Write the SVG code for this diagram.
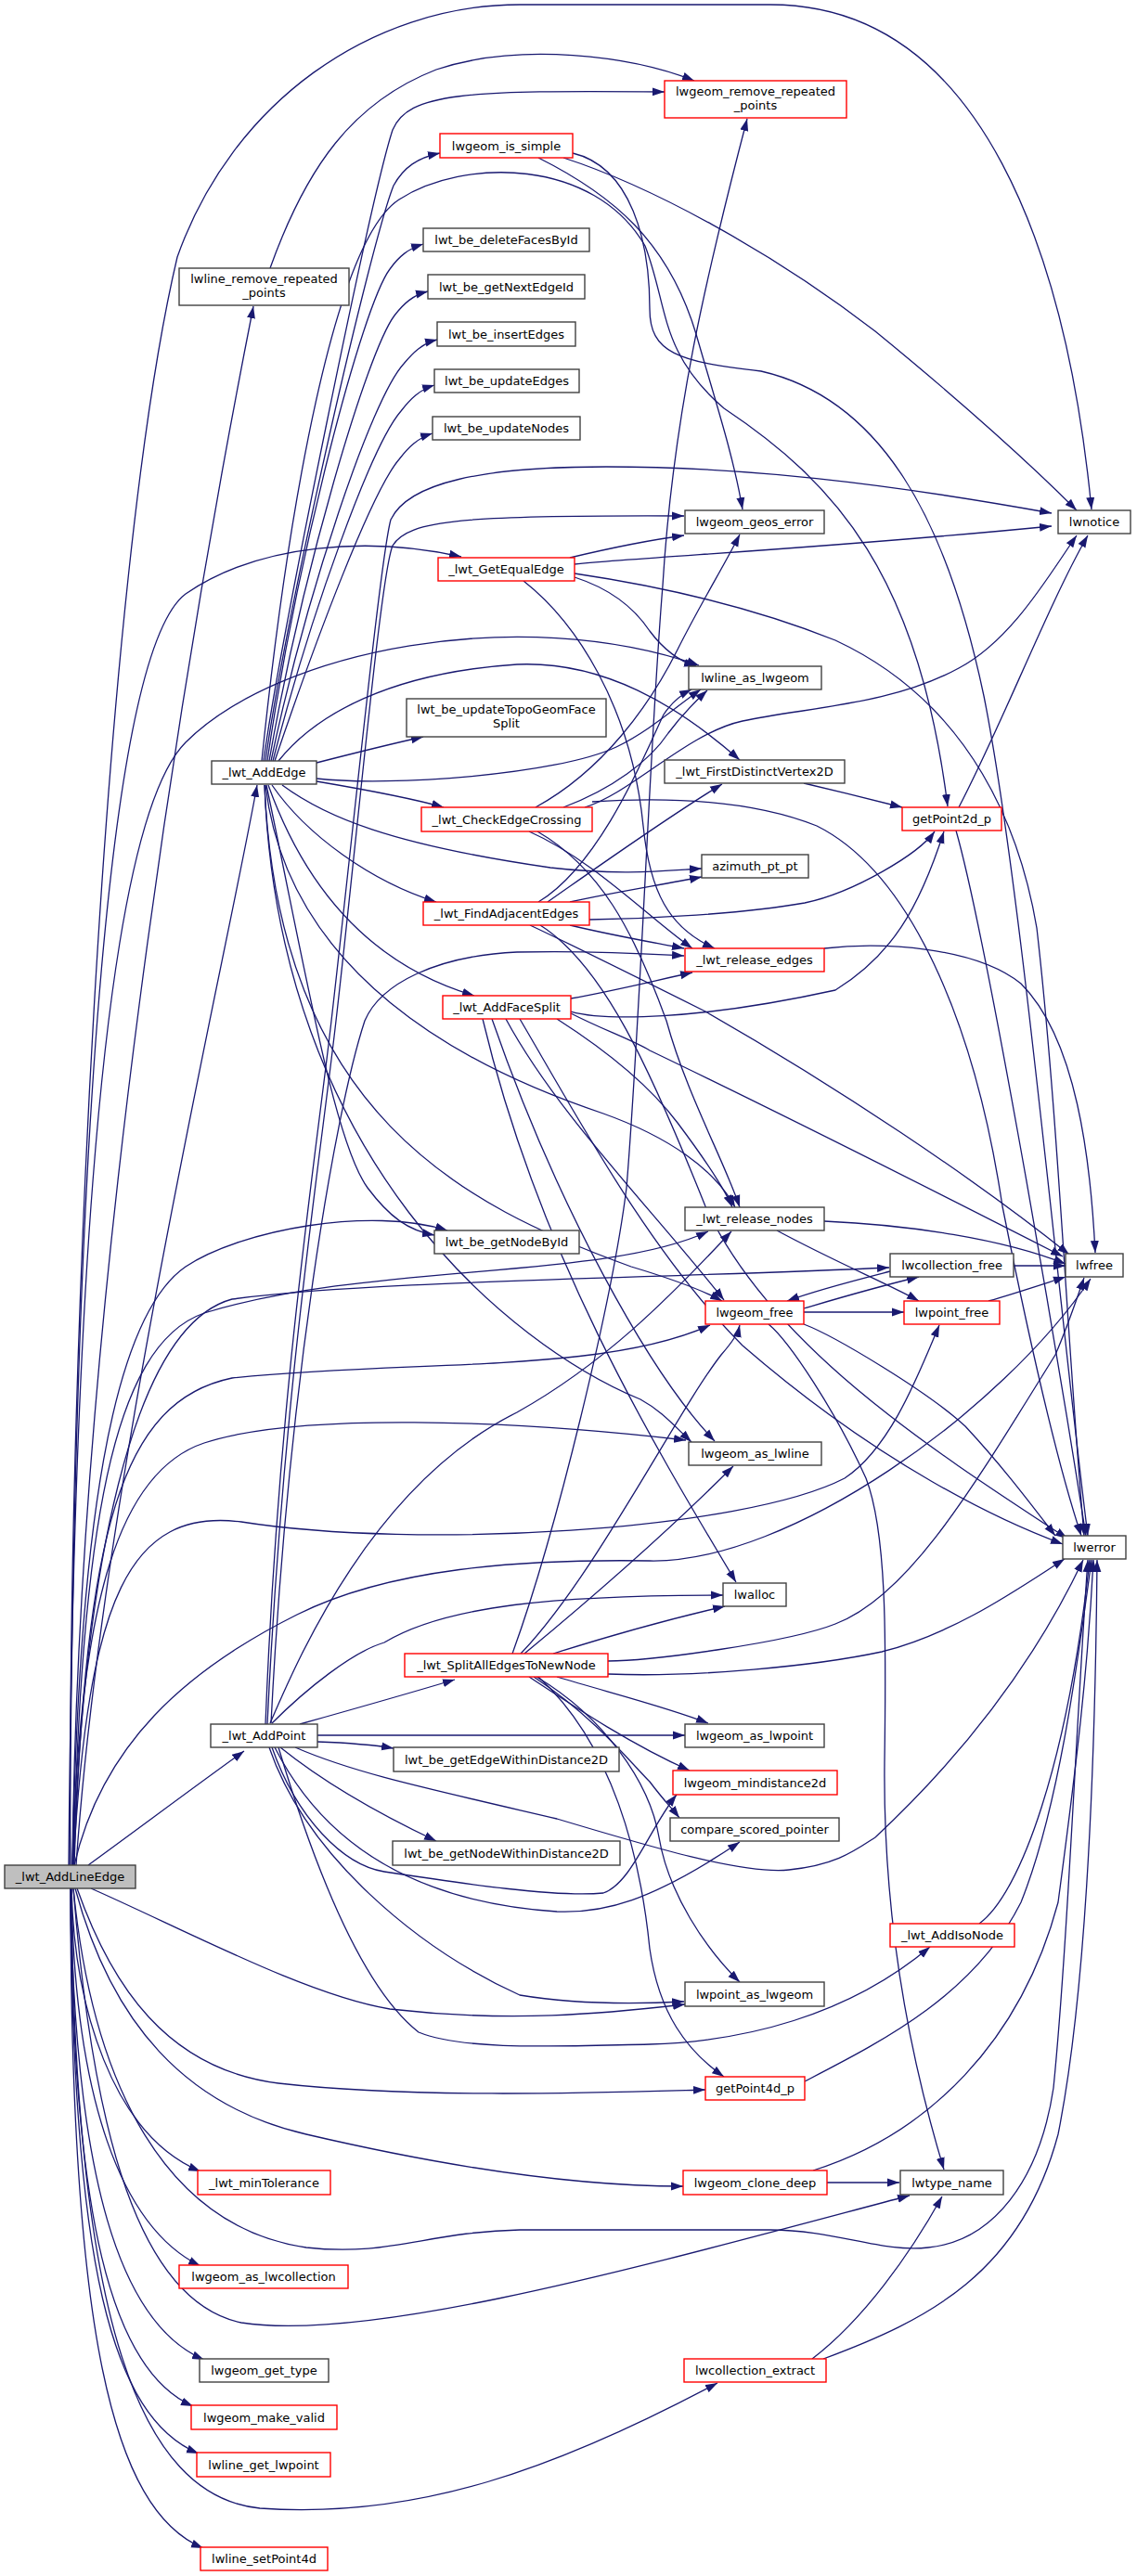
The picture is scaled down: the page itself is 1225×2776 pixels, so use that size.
<svg xmlns="http://www.w3.org/2000/svg" width="1225" height="2776" viewBox="0 0 1225 2776">
<defs>
<marker id="ah" viewBox="0 0 14 10" refX="13" refY="5" markerWidth="14" markerHeight="10" markerUnits="userSpaceOnUse" orient="auto">
<path d="M0,0.5 L13,5 L0,9.5 z" fill="#191970"/>
</marker>
<style>
.e path{fill:none;stroke:#191970;stroke-width:1.3;marker-end:url(#ah)}
.n rect{fill:#fff;stroke:#404040;stroke-width:1.4}
.r rect{fill:#fff;stroke:#ff0000;stroke-width:1.4}
.root rect{fill:#bfbfbf;stroke:#404040;stroke-width:1.4}
text{font-family:"DejaVu Sans","Liberation Sans",sans-serif;font-size:13px;text-anchor:middle;fill:#000}
</style>
</defs>
<rect width="1225" height="2776" fill="#fff"/>
<g id="edges" class="e">
<path d="M76,2010 C72,1500 110,620 191,277 C250,110 400,5 560,5 L830,5 C1060,5 1150,280 1176,549"/>
<path d="M78,2010 C84,1400 200,700 273,330"/>
<path d="M82,2010 C110,1600 240,1050 277,846"/>
<path d="M75,2010 C80,1200 120,700 200,640 C280,585 400,578 497,600"/>
<path d="M74,2010 C80,1300 120,880 200,800 C300,700 560,650 753,717"/>
<path d="M78,2010 C85,1650 120,1420 200,1365 C260,1325 400,1300 482,1326"/>
<path d="M79,2010 C88,1650 120,1450 220,1415 C400,1360 650,1380 763,1327"/>
<path d="M80,2010 C92,1650 130,1510 250,1485 C450,1465 650,1480 765,1428"/>
<path d="M79,2010 C90,1700 140,1430 250,1400 C400,1380 700,1378 958,1366"/>
<path d="M79,2010 C95,1720 140,1625 260,1640 C450,1670 800,1650 910,1593 C960,1560 990,1480 1012,1428"/>
<path d="M80,2010 C110,1880 200,1800 320,1740 C420,1690 560,1680 700,1682 C850,1685 1080,1520 1175,1378"/>
<path d="M78,2010 C86,1720 130,1585 220,1555 C320,1522 550,1530 739,1552"/>
<path d="M95,2010 C150,1970 210,1925 263,1887"/>
<path d="M79,2035 C100,2250 180,2400 330,2422 C420,2432 460,2405 560,2403 L830,2403 C900,2403 950,2428 1000,2422 C1070,2415 1120,2350 1135,2250 C1150,2100 1160,1850 1172,1681"/>
<path d="M98,2035 C200,2080 330,2150 420,2165 C550,2180 650,2170 738,2160"/>
<path d="M83,2035 C120,2140 180,2230 300,2245 C450,2262 650,2255 760,2252"/>
<path d="M81,2035 C120,2180 200,2270 330,2300 C480,2335 620,2356 736,2356"/>
<path d="M79,2035 C100,2300 150,2480 260,2503 C400,2525 700,2440 980,2366"/>
<path d="M77,2035 C80,2160 120,2300 216,2340"/>
<path d="M77,2035 C80,2260 130,2400 216,2442"/>
<path d="M76,2035 C80,2350 130,2505 220,2543"/>
<path d="M76,2035 C78,2390 120,2555 208,2593"/>
<path d="M76,2035 C78,2440 120,2605 214,2644"/>
<path d="M77,2035 C80,2500 150,2690 280,2703 C450,2715 600,2660 773,2568"/>
<path d="M76,2035 C76,2510 120,2705 219,2746"/>
<path d="M291,289 C330,180 380,110 470,75 C560,45 680,60 748,87"/>
<path d="M284,820 C300,700 400,210 423,140 C440,100 500,97 716,99"/>
<path d="M286,820 C310,650 400,260 424,200 C435,180 450,170 474,165"/>
<path d="M288,820 C320,600 390,330 420,290 C430,276 440,268 456,263"/>
<path d="M290,820 C325,620 395,380 425,340 C435,327 445,318 461,314"/>
<path d="M292,820 C330,640 400,430 435,392 C445,380 455,370 471,366"/>
<path d="M294,820 C335,660 400,480 432,443 C442,430 452,420 468,415"/>
<path d="M296,820 C340,690 400,530 430,495 C440,482 450,472 466,467"/>
<path d="M282,820 C310,550 360,260 430,215 C500,170 640,170 695,265 C720,330 710,380 780,440 C900,520 990,620 1021,869"/>
<path d="M341,822 C380,812 420,802 456,794"/>
<path d="M300,820 C340,770 420,725 557,716 C650,712 730,760 797,819"/>
<path d="M341,839 C420,848 600,835 664,805 C700,788 730,760 755,743"/>
<path d="M341,842 C400,852 450,862 478,870"/>
<path d="M304,846 C350,880 420,910 593,935 C670,944 720,938 756,936"/>
<path d="M293,846 C330,900 400,950 470,972"/>
<path d="M289,846 C330,960 400,1040 511,1073"/>
<path d="M287,846 C330,1050 360,1230 396,1280 C420,1312 440,1326 468,1331"/>
<path d="M286,846 C310,1050 500,1150 650,1200 C720,1225 770,1260 792,1301"/>
<path d="M285,846 C300,1200 500,1300 680,1365 C730,1380 760,1392 778,1402"/>
<path d="M285,846 C300,1250 550,1450 690,1508 C712,1520 725,1535 745,1554"/>
<path d="M577,870 C650,830 700,760 730,700 C755,650 780,610 797,576"/>
<path d="M607,870 C660,850 700,820 720,790 C735,770 750,755 762,744"/>
<path d="M630,870 C680,855 740,790 800,777 C870,762 960,760 1033,720 C1090,690 1130,620 1160,577"/>
<path d="M638,864 C700,860 800,858 880,890 C980,940 1050,1100 1080,1300 C1110,1450 1140,1580 1165,1655"/>
<path d="M579,896 C646,935 682,1001 718,1100 C740,1180 780,1250 797,1301"/>
<path d="M570,896 C640,927 700,990 746,1022"/>
<path d="M614,601 C660,590 700,582 737,577"/>
<path d="M619,608 C700,600 900,590 1133,567"/>
<path d="M619,622 C650,632 680,650 700,680 C715,700 730,712 750,718"/>
<path d="M619,618 C700,630 800,650 900,690 C1050,760 1100,900 1117,1000 C1140,1200 1150,1450 1168,1655"/>
<path d="M564,626 C620,670 680,760 693,890 C700,960 720,1000 770,1022"/>
<path d="M607,170 C700,200 830,270 943,357 C1020,420 1100,490 1160,550"/>
<path d="M580,170 C660,210 720,260 750,360 C770,430 790,490 800,549"/>
<path d="M617,165 C680,180 700,260 700,333 C700,380 730,390 820,400 C950,430 1020,560 1060,750 C1100,950 1140,1400 1172,1655"/>
<path d="M580,972 C650,930 700,800 715,770 C725,755 735,748 745,743"/>
<path d="M590,972 C650,930 720,880 778,845"/>
<path d="M614,972 C660,962 710,954 756,945"/>
<path d="M635,991 C700,990 800,985 867,973 C920,962 990,920 1007,896"/>
<path d="M614,997 C660,1008 700,1015 737,1022"/>
<path d="M571,997 C620,1020 680,1050 760,1090 C900,1170 1050,1270 1152,1352"/>
<path d="M582,997 C650,1040 700,1150 760,1300 C830,1450 1000,1560 1150,1658"/>
<path d="M615,1076 C660,1068 700,1058 746,1048"/>
<path d="M615,1090 C650,1100 750,1100 900,1067 C960,1030 990,980 1017,896"/>
<path d="M615,1092 C650,1110 680,1120 700,1132 C800,1180 1000,1280 1145,1354"/>
<path d="M560,1098 C620,1200 700,1350 800,1450 C950,1580 1080,1640 1145,1664"/>
<path d="M545,1098 C600,1200 700,1300 780,1401"/>
<path d="M600,1098 C650,1130 700,1170 730,1210 C760,1250 780,1280 789,1301"/>
<path d="M530,1098 C600,1300 700,1480 770,1553"/>
<path d="M520,1098 C580,1350 700,1550 793,1705"/>
<path d="M866,844 C900,852 940,862 972,870"/>
<path d="M888,1022 C950,1015 1050,1020 1100,1060 C1160,1120 1175,1250 1180,1350"/>
<path d="M888,1316 C980,1320 1080,1335 1148,1362"/>
<path d="M837,1326 C900,1360 960,1385 990,1402"/>
<path d="M1092,1364 L1148,1364"/>
<path d="M959,1370 C920,1380 880,1390 848,1402"/>
<path d="M866,1410 C900,1400 940,1388 990,1376"/>
<path d="M866,1414 L974,1414"/>
<path d="M1065,1402 C1090,1395 1120,1385 1148,1376"/>
<path d="M866,1427 C900,1440 1000,1500 1040,1537 C1080,1580 1110,1620 1137,1655"/>
<path d="M828,1427 C850,1445 900,1520 933,1593 C955,1650 955,1760 953,1900 C952,2000 960,2150 1017,2338"/>
<path d="M1033,870 C1080,780 1130,650 1172,577"/>
<path d="M1030,895 C1060,1000 1130,1400 1170,1655"/>
<path d="M1055,2073 C1100,2040 1150,1900 1174,1681"/>
<path d="M867,2243 C950,2200 1050,2150 1100,2050 C1140,1950 1160,1800 1176,1681"/>
<path d="M891,2352 L969,2352"/>
<path d="M876,2339 C1000,2300 1100,2200 1140,2050 C1160,1900 1172,1800 1178,1681"/>
<path d="M875,2542 C930,2500 980,2430 1015,2367"/>
<path d="M887,2542 C1000,2500 1100,2450 1140,2300 C1170,2150 1180,1900 1182,1681"/>
<path d="M286,1858 C300,1500 340,1250 357,1100 C380,900 410,600 421,560 C440,520 520,503 653,503 C800,503 950,520 1133,553"/>
<path d="M288,1858 C305,1500 345,1250 362,1100 C385,900 410,620 423,588 C440,560 500,555 737,556"/>
<path d="M323,1858 C380,1842 440,1825 490,1810"/>
<path d="M293,1857 C330,1820 380,1780 414,1770 C480,1730 600,1719 779,1719"/>
<path d="M342,1870 L738,1870"/>
<path d="M342,1877 C370,1878 400,1880 424,1884"/>
<path d="M302,1883 C360,1930 430,1965 470,1984"/>
<path d="M318,1883 C380,1910 450,1925 600,1960 C700,1990 800,2020 850,2015 C900,2010 920,1995 943,1980 C1050,1880 1120,1780 1167,1681"/>
<path d="M293,1883 C320,1960 370,2010 414,2017 C500,2030 600,2045 650,2040 C680,2030 700,1970 729,1934"/>
<path d="M296,1883 C350,1990 450,2050 600,2060 C650,2062 700,2050 797,1985"/>
<path d="M290,1883 C330,2000 450,2100 560,2150 C620,2160 680,2160 737,2157"/>
<path d="M300,1883 C350,2050 400,2150 451,2190 C500,2210 600,2205 700,2203 C800,2200 913,2173 1002,2098"/>
<path d="M291,1857 C320,1790 400,1600 557,1522 C650,1470 720,1400 788,1327"/>
<path d="M292,1857 C310,1500 360,1200 393,1100 C410,1060 470,1030 557,1026 C640,1024 700,1028 737,1030"/>
<path d="M552,1782 C600,1650 660,1400 675,1280 C690,1100 700,800 714,631 C725,450 760,300 805,128"/>
<path d="M561,1782 C640,1700 730,1520 777,1460 C790,1445 795,1437 797,1428"/>
<path d="M565,1782 C640,1720 720,1650 790,1580"/>
<path d="M596,1782 C650,1765 720,1745 781,1731"/>
<path d="M655,1804 C750,1808 880,1795 950,1780 C1030,1760 1100,1710 1147,1680"/>
<path d="M600,1807 C660,1825 720,1840 763,1857"/>
<path d="M570,1807 C620,1840 680,1880 743,1908"/>
<path d="M575,1807 C640,1850 680,1900 700,1920 C715,1940 725,1950 732,1959"/>
<path d="M578,1807 C650,1850 700,1920 710,1980 C720,2040 760,2100 797,2136"/>
<path d="M580,1807 C660,1880 690,2000 700,2100 C710,2170 740,2210 780,2238"/>
<path d="M655,1790 C700,1790 850,1770 900,1750 C980,1720 1050,1600 1137,1460 C1150,1430 1160,1400 1168,1377"/>
</g>
<g id="n_root" class="root"><rect x="5" y="2010" width="141" height="25"/><text x="75.5" y="2027">_lwt_AddLineEdge</text></g>
<g id="n_lwline_remove_repeated_points" class="n"><rect x="193" y="289" width="183" height="40"/><text x="284.5" y="305">lwline_remove_repeated</text><text x="284.5" y="320">_points</text></g>
<g id="n_lwt_AddEdge" class="n"><rect x="228" y="820" width="113" height="25"/><text x="284.5" y="837">_lwt_AddEdge</text></g>
<g id="n_lwt_AddPoint" class="n"><rect x="227" y="1858" width="115" height="25"/><text x="284.5" y="1875">_lwt_AddPoint</text></g>
<g id="n_lwt_minTolerance" class="r"><rect x="213" y="2339" width="143" height="26"/><text x="284.5" y="2356.5">_lwt_minTolerance</text></g>
<g id="n_lwgeom_as_lwcollection" class="r"><rect x="193" y="2441" width="182" height="25"/><text x="284" y="2458">lwgeom_as_lwcollection</text></g>
<g id="n_lwgeom_get_type" class="n"><rect x="215" y="2542" width="139" height="25"/><text x="284.5" y="2559">lwgeom_get_type</text></g>
<g id="n_lwgeom_make_valid" class="r"><rect x="206" y="2592" width="157" height="26"/><text x="284.5" y="2609.5">lwgeom_make_valid</text></g>
<g id="n_lwline_get_lwpoint" class="r"><rect x="212" y="2643" width="144" height="26"/><text x="284" y="2660.5">lwline_get_lwpoint</text></g>
<g id="n_lwline_setPoint4d" class="r"><rect x="216" y="2745" width="137" height="25"/><text x="284.5" y="2762">lwline_setPoint4d</text></g>
<g id="n_lwgeom_is_simple" class="r"><rect x="474" y="144" width="143" height="26"/><text x="545.5" y="161.5">lwgeom_is_simple</text></g>
<g id="n_lwt_be_deleteFacesById" class="n"><rect x="456" y="246" width="179" height="25"/><text x="545.5" y="263">lwt_be_deleteFacesById</text></g>
<g id="n_lwt_be_getNextEdgeId" class="n"><rect x="461" y="296" width="169" height="26"/><text x="545.5" y="313.5">lwt_be_getNextEdgeId</text></g>
<g id="n_lwt_be_insertEdges" class="n"><rect x="471" y="347" width="149" height="26"/><text x="545.5" y="364.5">lwt_be_insertEdges</text></g>
<g id="n_lwt_be_updateEdges" class="n"><rect x="468" y="398" width="156" height="25"/><text x="546" y="415">lwt_be_updateEdges</text></g>
<g id="n_lwt_be_updateNodes" class="n"><rect x="466" y="449" width="159" height="25"/><text x="545.5" y="466">lwt_be_updateNodes</text></g>
<g id="n_lwt_GetEqualEdge" class="r"><rect x="472" y="601" width="147" height="25"/><text x="545.5" y="618">_lwt_GetEqualEdge</text></g>
<g id="n_lwt_be_updateTopoGeomFaceSplit" class="n"><rect x="438" y="753" width="215" height="41"/><text x="545.5" y="769">lwt_be_updateTopoGeomFace</text><text x="545.5" y="784">Split</text></g>
<g id="n_lwt_CheckEdgeCrossing" class="r"><rect x="454" y="870" width="184" height="26"/><text x="546" y="887.5">_lwt_CheckEdgeCrossing</text></g>
<g id="n_lwt_FindAdjacentEdges" class="r"><rect x="456" y="972" width="179" height="25"/><text x="545.5" y="989">_lwt_FindAdjacentEdges</text></g>
<g id="n_lwt_AddFaceSplit" class="r"><rect x="477" y="1073" width="138" height="25"/><text x="546" y="1090">_lwt_AddFaceSplit</text></g>
<g id="n_lwt_be_getNodeById" class="n"><rect x="468" y="1326" width="156" height="25"/><text x="546" y="1343">lwt_be_getNodeById</text></g>
<g id="n_lwt_SplitAllEdgesToNewNode" class="r"><rect x="436" y="1782" width="219" height="25"/><text x="545.5" y="1799">_lwt_SplitAllEdgesToNewNode</text></g>
<g id="n_lwt_be_getEdgeWithinDistance2D" class="n"><rect x="424" y="1883" width="243" height="26"/><text x="545.5" y="1900.5">lwt_be_getEdgeWithinDistance2D</text></g>
<g id="n_lwt_be_getNodeWithinDistance2D" class="n"><rect x="423" y="1984" width="245" height="26"/><text x="545.5" y="2001.5">lwt_be_getNodeWithinDistance2D</text></g>
<g id="n_lwgeom_remove_repeated_points" class="r"><rect x="716" y="87" width="196" height="40"/><text x="814" y="103">lwgeom_remove_repeated</text><text x="814" y="117.5">_points</text></g>
<g id="n_lwgeom_geos_error" class="n"><rect x="738" y="550" width="150" height="25"/><text x="813" y="567">lwgeom_geos_error</text></g>
<g id="n_lwline_as_lwgeom" class="n"><rect x="742" y="718" width="143" height="25"/><text x="813.5" y="735">lwline_as_lwgeom</text></g>
<g id="n_lwt_FirstDistinctVertex2D" class="n"><rect x="716" y="819" width="194" height="25"/><text x="813" y="836">_lwt_FirstDistinctVertex2D</text></g>
<g id="n_azimuth_pt_pt" class="n"><rect x="756" y="921" width="115" height="25"/><text x="813.5" y="938">azimuth_pt_pt</text></g>
<g id="n_lwt_release_edges" class="r"><rect x="738" y="1022" width="150" height="25"/><text x="813" y="1039">_lwt_release_edges</text></g>
<g id="n_lwt_release_nodes" class="n"><rect x="738" y="1301" width="150" height="25"/><text x="813" y="1318">_lwt_release_nodes</text></g>
<g id="n_lwgeom_free" class="r"><rect x="760" y="1402" width="106" height="25"/><text x="813" y="1419">lwgeom_free</text></g>
<g id="n_lwgeom_as_lwline" class="n"><rect x="742" y="1554" width="143" height="25"/><text x="813.5" y="1571">lwgeom_as_lwline</text></g>
<g id="n_lwalloc" class="n"><rect x="779" y="1706" width="68" height="25"/><text x="813" y="1723">lwalloc</text></g>
<g id="n_lwgeom_as_lwpoint" class="n"><rect x="738" y="1858" width="150" height="25"/><text x="813" y="1875">lwgeom_as_lwpoint</text></g>
<g id="n_lwgeom_mindistance2d" class="r"><rect x="725" y="1908" width="177" height="26"/><text x="813.5" y="1925.5">lwgeom_mindistance2d</text></g>
<g id="n_compare_scored_pointer" class="n"><rect x="722" y="1959" width="182" height="25"/><text x="813" y="1976">compare_scored_pointer</text></g>
<g id="n_lwpoint_as_lwgeom" class="n"><rect x="738" y="2136" width="150" height="26"/><text x="813" y="2153.5">lwpoint_as_lwgeom</text></g>
<g id="n_getPoint4d_p" class="r"><rect x="760" y="2238" width="107" height="25"/><text x="813.5" y="2255">getPoint4d_p</text></g>
<g id="n_lwgeom_clone_deep" class="r"><rect x="736" y="2339" width="155" height="26"/><text x="813.5" y="2356.5">lwgeom_clone_deep</text></g>
<g id="n_lwcollection_extract" class="r"><rect x="737" y="2542" width="153" height="25"/><text x="813.5" y="2559">lwcollection_extract</text></g>
<g id="n_getPoint2d_p" class="r"><rect x="972" y="870" width="107" height="25"/><text x="1025.5" y="887">getPoint2d_p</text></g>
<g id="n_lwcollection_free" class="n"><rect x="959" y="1351" width="133" height="25"/><text x="1025.5" y="1368">lwcollection_free</text></g>
<g id="n_lwpoint_free" class="r"><rect x="974" y="1402" width="103" height="25"/><text x="1025.5" y="1419">lwpoint_free</text></g>
<g id="n_lwt_AddIsoNode" class="r"><rect x="959" y="2073" width="134" height="25"/><text x="1026" y="2090">_lwt_AddIsoNode</text></g>
<g id="n_lwtype_name" class="n"><rect x="970" y="2339" width="111" height="26"/><text x="1025.5" y="2356.5">lwtype_name</text></g>
<g id="n_lwnotice" class="n"><rect x="1140" y="550" width="78" height="25"/><text x="1179" y="567">lwnotice</text></g>
<g id="n_lwfree" class="n"><rect x="1148" y="1351" width="62" height="25"/><text x="1179" y="1368">lwfree</text></g>
<g id="n_lwerror" class="n"><rect x="1145" y="1655" width="68" height="25"/><text x="1179" y="1672">lwerror</text></g>
</svg>
